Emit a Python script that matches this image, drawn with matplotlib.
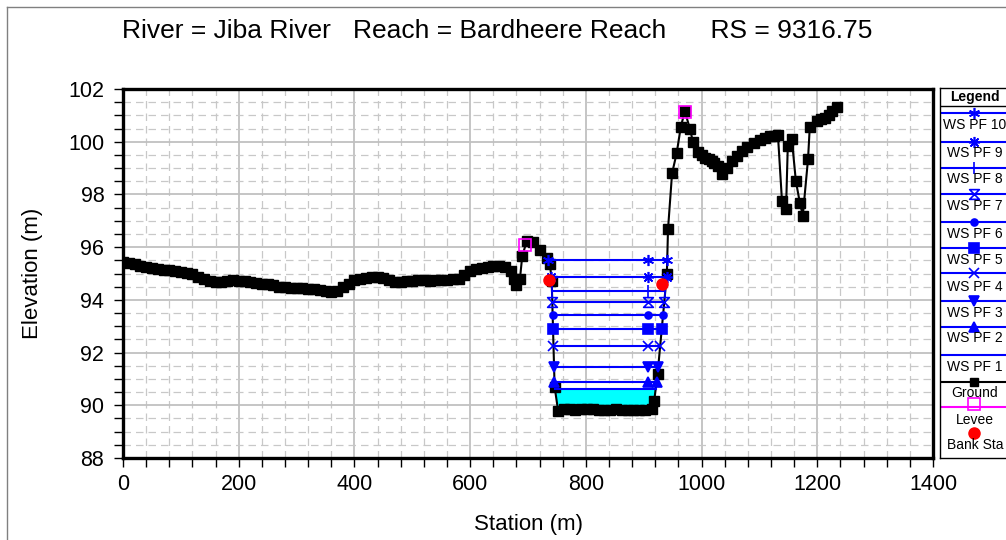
import numpy as np
import matplotlib.pyplot as plt
from matplotlib.path import Path
from matplotlib.lines import Line2D
from matplotlib.ticker import MultipleLocator

plt.rcParams['font.family'] = ['Liberation Sans', 'DejaVu Sans']

# ground profile (station m, elevation m)
station = [0, 10, 20, 30, 40, 50, 60, 70, 80, 90, 100, 110, 120, 130, 140, 150, 160, 170,
           180, 190, 200, 210, 220, 230, 240, 250, 260, 270, 280, 290, 300, 310, 320, 330,
           340, 350, 360, 370, 380, 390, 400, 410, 420, 430, 440, 450, 460, 470, 480, 490,
           500, 510, 520, 530, 540, 550, 560, 570, 580, 590, 600, 610, 620, 630, 640, 650,
           660, 670, 675, 680, 686, 690, 698, 709, 721, 733, 738, 741, 746, 752, 762, 772,
           782, 792, 802, 812, 822, 832, 842, 852, 862, 872, 882, 892, 902, 914, 918, 924,
           940, 942, 949, 957, 964, 971, 980, 985, 994, 1000, 1006, 1012, 1018, 1022, 1028,
           1035, 1044, 1052, 1061, 1070, 1078, 1090, 1101, 1110, 1118, 1126, 1132, 1139,
           1146, 1149, 1156, 1163, 1170, 1175, 1184, 1187, 1199, 1206, 1213, 1220, 1225, 1234]
ground = [95.42, 95.38, 95.35, 95.30, 95.26, 95.22, 95.17, 95.14, 95.12, 95.10, 95.06, 95.03,
          94.97, 94.88, 94.78, 94.72, 94.68, 94.68, 94.70, 94.74, 94.72, 94.70, 94.67, 94.65,
          94.62, 94.59, 94.55, 94.50, 94.47, 94.45, 94.45, 94.44, 94.42, 94.40, 94.36, 94.32,
          94.28, 94.35, 94.48, 94.62, 94.74, 94.80, 94.84, 94.85, 94.85, 94.82, 94.75, 94.68,
          94.66, 94.70, 94.72, 94.74, 94.74, 94.72, 94.74, 94.75, 94.76, 94.78, 94.80, 94.95,
          95.10, 95.18, 95.22, 95.24, 95.28, 95.30, 95.25, 95.10, 94.80, 94.55, 94.78, 95.65,
          96.25, 96.20, 95.90, 95.60, 95.35, 94.70, 90.70, 89.80, 89.85, 89.86, 89.84, 89.85,
          89.86, 89.85, 89.84, 89.83, 89.84, 89.85, 89.83, 89.82, 89.83, 89.84, 89.82, 89.85,
          90.15, 91.20, 94.97, 96.68, 98.80, 99.57, 100.55, 101.16, 100.48, 100.00, 99.60,
          99.48, 99.40, 99.33, 99.26, 99.18, 99.07, 98.77, 99.00, 99.25, 99.45, 99.65, 99.80,
          99.95, 100.05, 100.15, 100.20, 100.23, 100.25, 97.74, 97.44, 99.83, 100.10, 98.50,
          97.67, 97.20, 99.34, 100.55, 100.78, 100.85, 100.90, 101.02, 101.15, 101.30]

# water surface profiles
profiles = ['WS PF 10', 'WS PF 9', 'WS PF 8', 'WS PF 7', 'WS PF 6',
            'WS PF 5', 'WS PF 4', 'WS PF 3', 'WS PF 2', 'WS PF 1']
ws_elev = [95.53, 94.85, 94.32, 93.90, 93.44, 92.91, 92.26, 91.47, 90.90, 90.63]
mid_station = 907

levee_sta = [695, 971]
levee_elev = [96.1, 101.12]
bank_sta = [736, 931]
bank_elev = [94.74, 94.59]

hourglass = Path([(-1, 1), (1, 1), (-1, -1), (1, -1), (-1, 1)],
                 [Path.MOVETO, Path.LINETO, Path.LINETO, Path.LINETO, Path.CLOSEPOLY])
styles = {
    'WS PF 10': dict(marker=(6, 2, 0), ms=8),
    'WS PF 9': dict(marker=(8, 2, 0), ms=8),
    'WS PF 8': dict(marker='|', ms=9),
    'WS PF 7': dict(marker=hourglass, ms=7, mfc='none'),
    'WS PF 6': dict(marker='o', ms=5),
    'WS PF 5': dict(marker='s', ms=6.5),
    'WS PF 4': dict(marker='x', ms=7),
    'WS PF 3': dict(marker='v', ms=7),
    'WS PF 2': dict(marker='^', ms=7),
    'WS PF 1': dict(marker=None),
}
BLUE = '#0000ff'

sta = np.array(station, dtype=float)
gr = np.array(ground, dtype=float)

fig = plt.figure(figsize=(10.06, 5.4), dpi=100)
W, H = 1006, 540

def px_rect(x0, y0, x1, y1):
    return [x0 / W, 1 - y1 / H, (x1 - x0) / W, (y1 - y0) / H]

# outer frame
fig.add_artist(Line2D([7 / W, 7 / W], [0, 1 - 7 / H], color='#808080', lw=1))
fig.add_artist(Line2D([7 / W, 1], [1 - 7 / H, 1 - 7 / H], color='#808080', lw=1))

ax = fig.add_axes(px_rect(123, 89, 933, 458))
ax.set_xlim(0, 1400)
ax.set_ylim(88, 102)

# channel banks used to find where the water surface meets the ground
left = (sta >= 733) & (sta <= 752)
right = (sta >= 914) & (sta <= 942)
chan = (sta >= 741) & (sta <= 940)

ax.fill_between(sta[chan], gr[chan], ws_elev[-1], where=gr[chan] < ws_elev[-1],
                interpolate=True, color='#00ffff', lw=0, zorder=2)

for name, z in zip(profiles, ws_elev):
    xl = np.interp(z, gr[left][::-1], sta[left][::-1])
    xr = np.interp(z, gr[right], sta[right])
    st = styles[name]
    ax.plot([xl, xr], [z, z], color=BLUE, lw=1.5, zorder=4)
    if st['marker'] is not None:
        ax.plot([xl, mid_station, xr], [z, z, z], ls='none', color=BLUE, mec=BLUE,
                mfc=st.get('mfc', BLUE), marker=st['marker'], ms=st['ms'], mew=1.2, zorder=5)

ax.plot(sta, gr, color='black', lw=1.5, marker='s', ms=7, zorder=3)
ax.plot(levee_sta, levee_elev, ls='none', marker='s', ms=9, mfc='none', mec='#ff00ff',
        mew=1.2, zorder=6)
ax.plot(bank_sta, bank_elev, ls='none', marker='o', ms=8, color='#ff0000', zorder=6)

ax.xaxis.set_major_locator(MultipleLocator(200))
ax.xaxis.set_minor_locator(MultipleLocator(40))
ax.yaxis.set_major_locator(MultipleLocator(2))
ax.yaxis.set_minor_locator(MultipleLocator(0.5))
ax.grid(which='major', color='#c0c0c0', lw=1.3, zorder=0)
ax.grid(which='minor', color='#c8c8c8', lw=0.9, ls=(0, (6, 4)), zorder=0)
ax.set_axisbelow(True)
ax.tick_params(which='both', direction='out', length=6.5, width=1, labelsize=15.5)
ax.tick_params(axis='y', pad=7)
ax.tick_params(axis='x', pad=5)
for s in ax.spines.values():
    s.set_linewidth(2.4)

ax.set_xlabel('Station (m)', fontsize=16, labelpad=14)
ax.set_ylabel('Elevation (m)', fontsize=16, labelpad=18)
fig.text(497 / W, 1 - 31 / H, 'River = Jiba River   Reach = Bardheere Reach      RS = 9316.75',
         ha='center', va='center', fontsize=19)

# legend panel drawn in pixel coordinates
lg = fig.add_axes(px_rect(940, 88, 1012, 458))
lg.set_xlim(940, 1012)
lg.set_ylim(458, 88)
lg.set_xticks([])
lg.set_yticks([])
for s in lg.spines.values():
    s.set_linewidth(1)
lg.text(975, 97, 'Legend', ha='center', va='center', fontsize=10, fontweight='bold')
lg.plot([940, 1012], [106, 106], color='black', lw=1)

line_y = [113, 142, 168, 194, 222, 248, 273, 301, 327, 355]
text_y = [125, 153, 179, 206, 234, 260, 287, 313, 338, 367]
for name, ly, ty in zip(profiles, line_y, text_y):
    st = styles[name]
    lg.plot([941, 1012], [ly, ly], color=BLUE, lw=1.5)
    if st['marker'] is not None:
        lg.plot([974], [ly], ls='none', color=BLUE, mec=BLUE, mfc=st.get('mfc', BLUE),
                marker=st['marker'], ms=st['ms'], mew=1.2)
    lg.text(975, ty, name, ha='center', va='center', fontsize=10)

lg.plot([941, 1012], [382, 382], color='black', lw=1.5)
lg.plot([974], [382], marker='s', ms=6, color='black')
lg.text(975, 393, 'Ground', ha='center', va='center', fontsize=10)
lg.plot([941, 1012], [407, 407], color='#ff00ff', lw=1.5)
lg.plot([974], [404], marker='s', ms=8, mfc='none', mec='#ff00ff', mew=1.2)
lg.text(975, 420, 'Levee', ha='center', va='center', fontsize=10)
lg.plot([974], [433], marker='o', ms=8, color='#ff0000')
lg.text(975, 445, 'Bank Sta', ha='center', va='center', fontsize=10)

fig.savefig('out.png', dpi=100)
